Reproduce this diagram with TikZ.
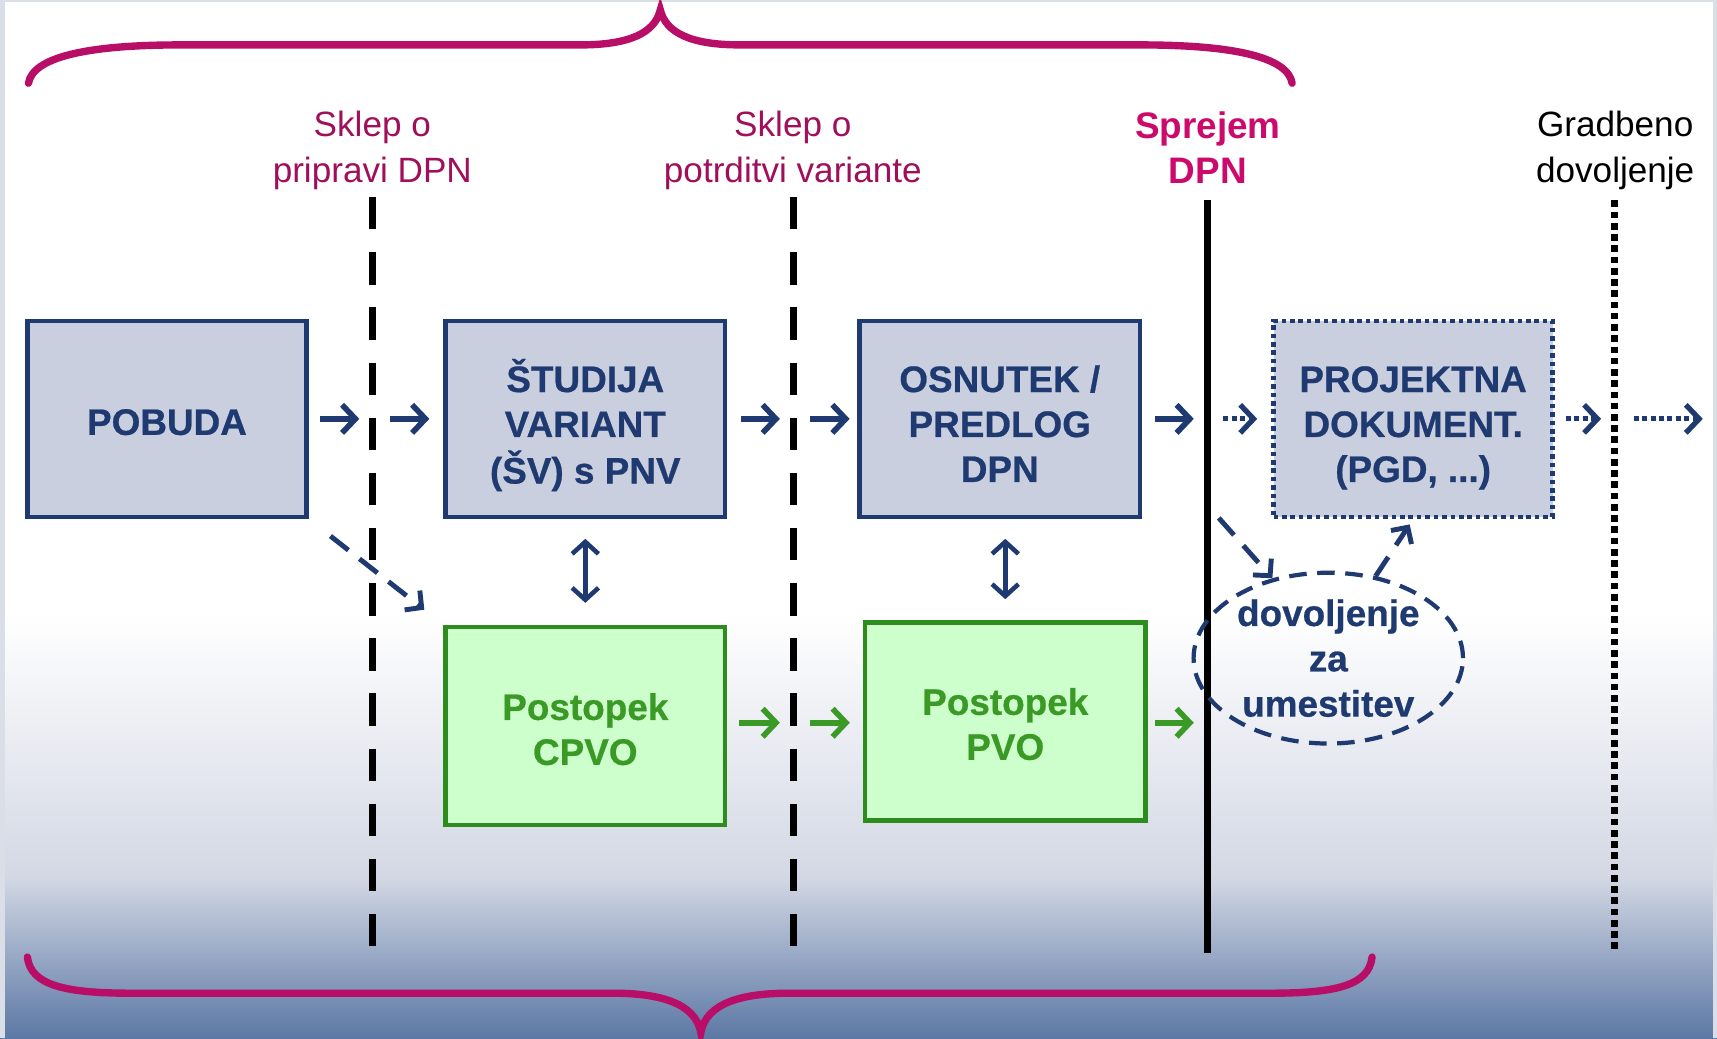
\documentclass[tikz,border=0pt]{standalone}
\usepackage{fontspec}
\setmainfont{Liberation Sans}
\newfontfamily\heavyfont[BoldFeatures={FakeBold=0.6}]{Liberation Sans}
\usetikzlibrary{arrows.meta,shapes.geometric,calc}
\definecolor{navy}{HTML}{1F3A70}
\definecolor{boxfill}{HTML}{C9CFDE}
\definecolor{gborder}{HTML}{2E8B1E}
\definecolor{gtext}{HTML}{3A9A25}
\definecolor{gfill}{HTML}{CCFFCC}
\definecolor{garrow}{HTML}{3A9A25}
\definecolor{pinklbl}{HTML}{A00F5A}
\definecolor{pinkbold}{HTML}{CC0A6C}
\definecolor{bracecol}{HTML}{B80E68}
\definecolor{bgmid}{HTML}{D3D8E4}
\definecolor{bgbot}{HTML}{5C78A5}
\definecolor{strip}{HTML}{DADEE7}
\newcommand{\btext}[2]{\raisebox{#1}[\height][\depth]{\begin{tabular}{@{}c@{}}#2\end{tabular}}}
\tikzset{
  box/.style={draw=navy, line width=1.3pt, fill=boxfill, text=navy,
    font=\heavyfont\bfseries\fontsize{10.5}{12.8}\selectfont,
    minimum width={255*0.01095cm}, minimum height={179*0.01095cm}, inner sep=0pt},
  gbox/.style={draw=gborder, line width=1.3pt, fill=gfill, text=gtext,
    font=\heavyfont\bfseries\fontsize{10.5}{12.8}\selectfont,
    minimum width={255*0.01095cm}, minimum height={181*0.01095cm}, inner sep=0pt},
  lbl/.style={align=center, font=\fontsize{10}{13}\selectfont, text=pinklbl, inner sep=0pt, anchor=north},
  arrtip/.tip={Straight Barb[length=3.8pt,width=8pt]},
  arr/.style={-arrtip, line width=1.6pt, draw=navy},
  garr/.style={arr, draw=garrow},
  dotarr/.style={arr, line width=1.5pt, dash pattern=on 1.4pt off 1pt},
  dasharr/.style={-{Straight Barb[length=3.4pt,width=7pt]}, draw=navy, line width=1.4pt, dash pattern=on 6.5pt off 4pt},
  dblarr/.style={{Straight Barb[length=3.4pt,width=7.5pt]}-{Straight Barb[length=3.4pt,width=7.5pt]}, line width=1.3pt, draw=navy},
  vdash/.style={line width=2pt, black, dash pattern=on 9.2pt off 6.5pt},
  vsolid/.style={line width=2pt, black},
  vdot/.style={line width=2pt, black, dash pattern=on 1.9pt off 1.3pt},
  bracestyle/.style={draw=bracecol, line width=2.1pt, line cap=round}
}
\begin{document}
\begin{tikzpicture}[x=0.01095cm, y=-0.01095cm]
\useasboundingbox (0,0) rectangle (1568,948);
% background
\fill[white] (0,0) rectangle (1568,948);
\shade[top color=white, bottom color=bgmid] (0,560) rectangle (1568,800);
\shade[top color=bgmid, bottom color=bgbot] (0,800) rectangle (1568,948);
\fill[strip] (0,0) rectangle (4.5,948);
\fill[strip] (1564,0) rectangle (1568,948);
\fill[strip] (0,0) rectangle (1568,2);

% braces
\draw[bracestyle] (26,76) .. controls (30,52) and (80,41) .. (165,41) -- (530,41)
  .. controls (575,41) and (598,30) .. (603,9)
  .. controls (608,30) and (631,41) .. (676,41) -- (1041,41)
  .. controls (1126,41) and (1176,52) .. (1180,76);
\draw[bracestyle] (25,874) .. controls (28,900) and (60,907) .. (120,907) -- (560,907)
  .. controls (600,907) and (635,915) .. (640,943)
  .. controls (645,915) and (680,907) .. (720,907) -- (1160,907)
  .. controls (1220,907) and (1250,900) .. (1253,874);

% labels
\node[lbl] (lab1) at (340,101) {Sklep o\\pripravi DPN};
\node[lbl] (lab2) at (724,101) {Sklep o\\potrditvi variante};
\node[lbl, text=pinkbold, font=\bfseries\fontsize{10.5}{13}\selectfont] (lab3) at (1103,101) {Sprejem\\DPN};
\node[lbl, text=black] (lab4) at (1475,101) {Gradbeno\\dovoljenje};

% vertical lines
\coordinate (l1t) at (340,180); \coordinate (l1b) at (340,870);
\coordinate (l2t) at (725,180); \coordinate (l2b) at (725,870);
\coordinate (l3t) at (1103,183); \coordinate (l3b) at (1103,870);
\coordinate (l4t) at (1474,183); \coordinate (l4b) at (1474,870);
\draw[vdash] (l1t) -- (l1b);
\draw[vdash] (l2t) -- (l2b);
\draw[vsolid] (l3t) -- (l3b);
\draw[vdot] (l4t) -- (l4b);

% boxes
\node[box] (pobuda) at (152.5,382.5) {\btext{-2.0pt}{POBUDA}};
\node[box] (studija) at (534.5,382.5) {\btext{-2.6pt}{ŠTUDIJA\\VARIANT\\(ŠV) s PNV}};
\node[box, minimum width={256*0.01095cm}] (osnutek) at (913,382.5) {\btext{-2.6pt}{OSNUTEK /\\PREDLOG\\DPN}};
\node[box, dash pattern=on 1.3pt off 1.1pt] (projektna) at (1290.5,382.5) {\btext{-2.6pt}{PROJEKTNA\\DOKUMENT.\\(PGD, ...)}};
\node[gbox] (cpvo) at (534.5,663) {\btext{-2.1pt}{Postopek\\CPVO}};
\node[gbox, minimum width={256*0.01095cm}] (pvo) at (918,659) {\btext{-1.9pt}{Postopek\\PVO}};
\node[draw=navy, line width=1.2pt, dash pattern=on 5pt off 3pt, ellipse,
  minimum width={246*0.01095cm}, minimum height={156*0.01095cm}, inner sep=0pt,
  text=navy, font=\heavyfont\bfseries\fontsize{10.5}{12.9}\selectfont, align=center]
  (umest) at (1213,601) {dovoljenje\\za\\umestitev};

% top row arrows
\draw[arr, shorten <=3.1pt, shorten >=3.7pt] (pobuda.east) -- (pobuda.east -| l1t);
\draw[arr, shorten <=5pt, shorten >=4pt] (studija.west -| l1t) -- (studija.west);
\draw[arr, shorten <=4pt, shorten >=4pt] (studija.east) -- (studija.east -| l2t);
\draw[arr, shorten <=4.7pt, shorten >=2.2pt] (osnutek.west -| l2t) -- (osnutek.west);
\draw[arr, shorten <=3.7pt, shorten >=4pt] (osnutek.east) -- (osnutek.east -| l3t);
\draw[dotarr, shorten <=4.4pt, shorten >=4pt] (projektna.west -| l3t) -- (projektna.west);
\draw[dotarr, shorten <=3.1pt, shorten >=3.7pt] (projektna.east) -- (projektna.east -| l4t);
\coordinate (endr) at (1555,382.5);
\draw[dotarr, shorten <=5.6pt] (projektna.east -| l4t) -- (endr);

% green arrows
\coordinate (g1) at (662,660);
\draw[garr, shorten <=4pt, shorten >=4pt] (g1) -- (g1 -| l2t);
\draw[garr, shorten <=4.7pt, shorten >=3.7pt] (g1 -| l2t) -- (g1 -| pvo.west);
\draw[garr, shorten <=2.2pt, shorten >=4pt] (g1 -| pvo.east) -- (g1 -| l3t);

% vertical double arrows
\draw[dblarr, shorten <=5.6pt, shorten >=6.2pt] (studija.south) -- (cpvo.north);
\draw[dblarr, shorten <=5.6pt, shorten >=6pt] (pvo.north |- osnutek.south) -- (pvo.north);

% dashed arrows
\draw[dasharr, shorten <=7.8pt, shorten >=6.9pt] (pobuda.south east) -- (cpvo.north west);
\coordinate (da) at (1113,473);
\draw[dasharr] (da) -- (umest.125);
\draw[dasharr, shorten >=1.8pt] (umest.60) -- (projektna.south);
\end{tikzpicture}
\end{document}
